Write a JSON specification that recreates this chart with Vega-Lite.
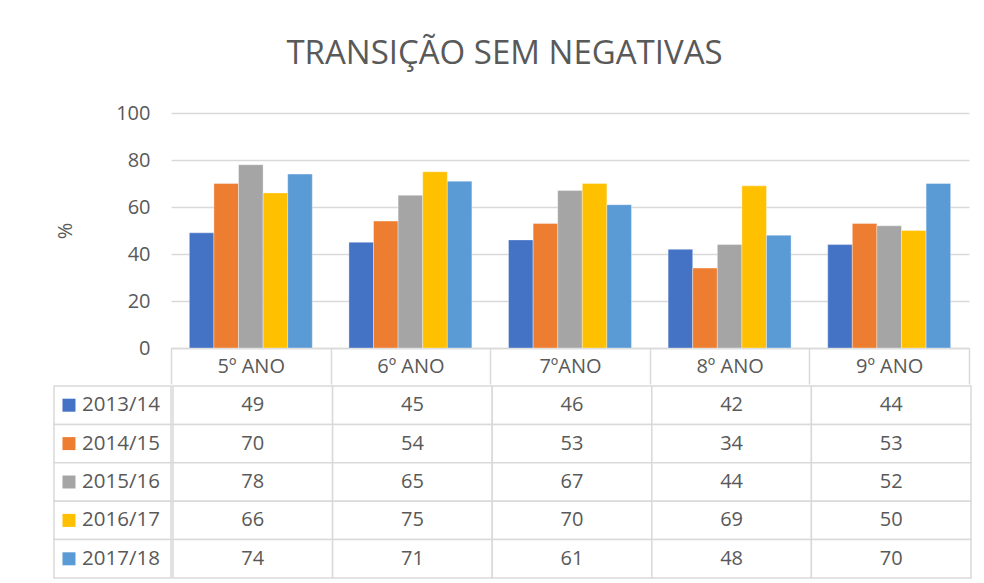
{
  "$schema": "https://vega.github.io/schema/vega-lite/v6.json",
  "datasets": {
    "d": [
      {"cat": "5º ANO", "series": "2013/14", "value": 49},
      {"cat": "5º ANO", "series": "2014/15", "value": 70},
      {"cat": "5º ANO", "series": "2015/16", "value": 78},
      {"cat": "5º ANO", "series": "2016/17", "value": 66},
      {"cat": "5º ANO", "series": "2017/18", "value": 74},
      {"cat": "6º ANO", "series": "2013/14", "value": 45},
      {"cat": "6º ANO", "series": "2014/15", "value": 54},
      {"cat": "6º ANO", "series": "2015/16", "value": 65},
      {"cat": "6º ANO", "series": "2016/17", "value": 75},
      {"cat": "6º ANO", "series": "2017/18", "value": 71},
      {"cat": "7ºANO", "series": "2013/14", "value": 46},
      {"cat": "7ºANO", "series": "2014/15", "value": 53},
      {"cat": "7ºANO", "series": "2015/16", "value": 67},
      {"cat": "7ºANO", "series": "2016/17", "value": 70},
      {"cat": "7ºANO", "series": "2017/18", "value": 61},
      {"cat": "8º ANO", "series": "2013/14", "value": 42},
      {"cat": "8º ANO", "series": "2014/15", "value": 34},
      {"cat": "8º ANO", "series": "2015/16", "value": 44},
      {"cat": "8º ANO", "series": "2016/17", "value": 69},
      {"cat": "8º ANO", "series": "2017/18", "value": 48},
      {"cat": "9º ANO", "series": "2013/14", "value": 44},
      {"cat": "9º ANO", "series": "2014/15", "value": 53},
      {"cat": "9º ANO", "series": "2015/16", "value": 52},
      {"cat": "9º ANO", "series": "2016/17", "value": 50},
      {"cat": "9º ANO", "series": "2017/18", "value": 70}
    ]
  },
  "title": {
    "text": "TRANSIÇÃO SEM NEGATIVAS",
    "fontSize": 33,
    "fontWeight": "normal",
    "color": "#595959",
    "anchor": "middle",
    "offset": 32,
    "dx": -8
  },
  "padding": {"left": 53, "top": 38, "right": 5, "bottom": 5},
  "spacing": 0,
  "vconcat": [
    {
      "spacing": 0,
      "bounds": "flush",
      "hconcat": [
        {
          "width": 117,
          "height": 235,
          "data": {"values": []},
          "mark": "point"
        },
        {
          "width": 798,
          "height": 235,
          "data": {"name": "d"},
          "mark": {"type": "bar", "stroke": "white", "strokeWidth": 0.6, "strokeOpacity": 0.6},
          "encoding": {
            "x": {
              "field": "cat", "type": "nominal", "sort": null,
              "scale": {"paddingInner": 0, "paddingOuter": 0},
              "axis": {
                "title": null, "labelFontSize": 20, "labelColor": "#595959", "labelAngle": 0,
                "tickBand": "extent", "tickSize": 36, "tickColor": "#d9d9d9", "tickWidth": 1.5,
                "domainColor": "#d9d9d9", "domainWidth": 1.5,
                "labelBaseline": "middle", "labelPadding": -18, "grid": false
              }
            },
            "xOffset": {
              "field": "series", "type": "nominal", "sort": null,
              "scale": {"paddingInner": 0, "paddingOuter": 0.745}
            },
            "y": {
              "field": "value", "type": "quantitative",
              "scale": {"domain": [0, 100]},
              "axis": {
                "values": [0, 20, 40, 60, 80, 100],
                "title": "%", "titleFontSize": 20, "titleFontWeight": "normal", "titleColor": "#595959",
                "titlePadding": 40,
                "labelFontSize": 20, "labelColor": "#595959", "labelPadding": 21,
                "ticks": false, "domain": false, "gridColor": "#d9d9d9", "gridWidth": 1.5
              }
            },
            "color": {
              "field": "series", "type": "nominal", "sort": null,
              "scale": {
                "domain": ["2013/14", "2014/15", "2015/16", "2016/17", "2017/18"],
                "range": ["#4472C4", "#ED7D31", "#A5A5A5", "#FFC000", "#5B9BD5"]
              },
              "legend": null
            }
          }
        }
      ],
      "resolve": {"scale": {"x": "independent", "y": "independent"}}
    },
    {
      "spacing": 0,
      "hconcat": [
        {
          "width": 117,
          "height": 192,
          "data": {"name": "d"},
          "transform": [{"filter": "datum.cat === '5º ANO'"}],
          "layer": [
            {
              "mark": {"type": "rect", "fill": "white", "stroke": "#d9d9d9", "strokeWidth": 1.5},
              "encoding": {
                "x": {"datum": 0, "type": "quantitative", "scale": {"domain": [0, 1]}, "axis": null},
                "x2": {"datum": 1},
                "y": {"field": "series", "type": "nominal", "sort": null, "scale": {"paddingInner": 0, "paddingOuter": 0}, "axis": null}
              }
            },
            {
              "mark": {"type": "square", "size": 169, "opacity": 1},
              "encoding": {
                "x": {"datum": 0.128, "type": "quantitative"},
                "y": {"field": "series", "type": "nominal", "sort": null},
                "color": {
                  "field": "series", "type": "nominal", "sort": null,
                  "scale": {
                    "domain": ["2013/14", "2014/15", "2015/16", "2016/17", "2017/18"],
                    "range": ["#4472C4", "#ED7D31", "#A5A5A5", "#FFC000", "#5B9BD5"]
                  },
                  "legend": null
                }
              }
            },
            {
              "mark": {"type": "text", "align": "left", "fontSize": 20.5, "color": "#595959"},
              "encoding": {
                "x": {"datum": 0.24, "type": "quantitative"},
                "y": {"field": "series", "type": "nominal", "sort": null},
                "text": {"field": "series"}
              }
            }
          ]
        },
        {
          "width": 798,
          "height": 192,
          "data": {"name": "d"},
          "layer": [
            {
              "mark": {"type": "rect", "fill": "white", "stroke": "#d9d9d9", "strokeWidth": 1.5},
              "encoding": {
                "x": {"field": "cat", "type": "nominal", "sort": null, "scale": {"paddingInner": 0, "paddingOuter": 0}, "axis": null},
                "y": {"field": "series", "type": "nominal", "sort": null, "scale": {"paddingInner": 0, "paddingOuter": 0}, "axis": null}
              }
            },
            {
              "mark": {"type": "text", "fontSize": 20, "color": "#595959"},
              "encoding": {
                "x": {"field": "cat", "type": "nominal", "sort": null},
                "y": {"field": "series", "type": "nominal", "sort": null},
                "text": {"field": "value", "type": "quantitative"}
              }
            }
          ]
        }
      ],
      "resolve": {"scale": {"x": "independent", "y": "independent"}}
    }
  ],
  "resolve": {"scale": {"x": "independent", "y": "independent"}},
  "config": {"view": {"stroke": null}, "font": "Open Sans"}
}
